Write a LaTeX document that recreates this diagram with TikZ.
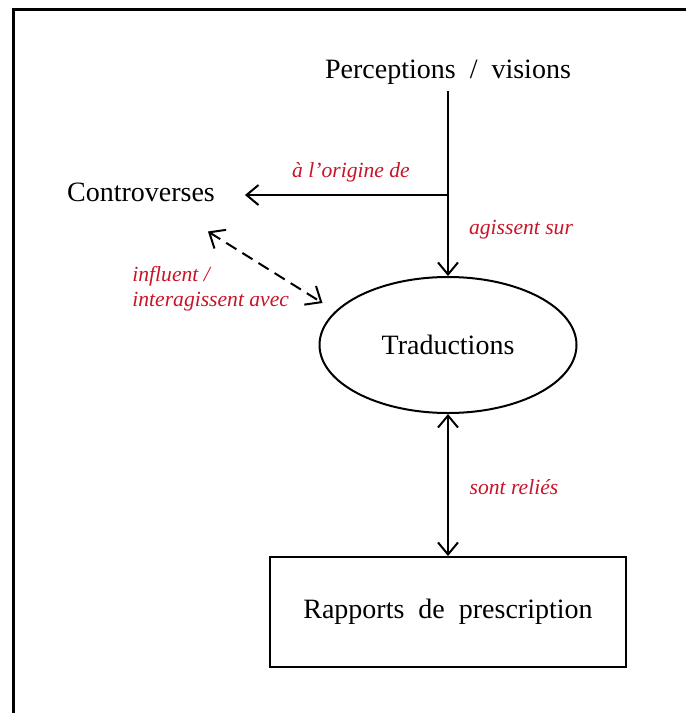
\documentclass[tikz,border=0pt]{standalone}
\usepackage{fontspec}
\setmainfont{Liberation Serif}
\usetikzlibrary{arrows.meta,shapes.geometric}
\definecolor{labelred}{RGB}{200,20,40}
\begin{document}
\begin{tikzpicture}[
    x=0.5pt, y=-0.5pt,
    concept/.style={font=\fontsize{14}{16}\selectfont},
    oval/.style={ellipse, draw, line width=1pt, minimum width=128.5pt, minimum height=68pt, font=\fontsize{14}{16}\selectfont},
    report/.style={rectangle, draw, line width=1pt, minimum width=178pt, minimum height=55pt, font=\fontsize{14}{16}\selectfont},
    arrow/.style={-{Straight Barb[length=6pt, width=10pt]}, line width=1pt},
    both/.style={{Straight Barb[length=6pt, width=10pt]}-{Straight Barb[length=6pt, width=10pt]}, line width=1pt},
    link/.style={{Straight Barb[length=6.5pt, width=11pt]}-{Straight Barb[length=6.5pt, width=11pt]}, line width=1pt, dash pattern=on 6pt off 3.5pt},
    label/.style={font=\fontsize{10.8}{12.5}\selectfont\itshape, text=labelred, inner sep=1pt}
]
    \useasboundingbox (0,0) rectangle (686,713);

    % Frame (top and left edges only)
    \draw[line width=1.5pt] (13,713) -- (13,9) -- (686,9);

    % Nodes
    \node[concept] (P) at (448,72) {Perceptions~ /~ visions};
    \node[concept] (C) at (141,192) {Controverses};
    \node[oval] (T) at (448,345) {Traductions};
    \node[report] (R) at (448,612) {Rapports~ de~ prescription};
    \coordinate (J) at (448,195);

    % Connectors
    \draw[arrow] (P) -- (T);
    \draw[arrow, shorten >=11.5pt] (J) -- (J -| C.east);
    \draw[link] ([xshift=-7pt, yshift=-11.5pt]C.south east) -- ([xshift=2pt, yshift=21pt]T.west);
    \draw[both] (T) -- (R);

    % Labels
    \node[label] (lorig) at (351,172) {à l’origine de};
    \node[label] (lagit) at (521,230) {agissent sur};
    \node[label, align=left, anchor=west] (linfl) at (130,289) {influent /\\interagissent avec};
    \node[label] (lrel) at (514,487) {sont reliés};
\end{tikzpicture}
\end{document}
